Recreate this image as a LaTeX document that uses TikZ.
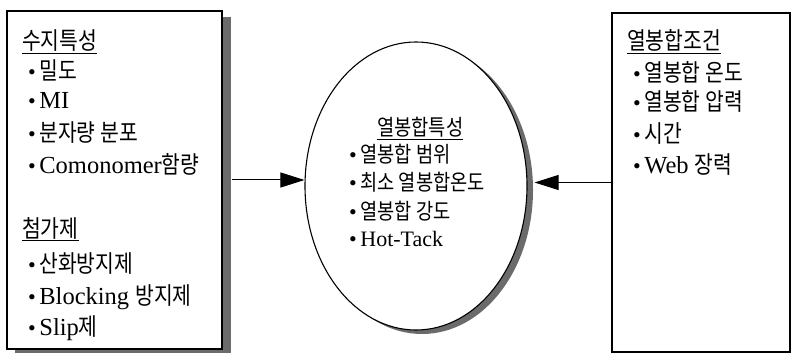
\documentclass[tikz,border=0pt]{standalone}
\usepackage{fontspec}
\setmainfont{Liberation Serif}
\newfontfamily\kr[FakeStretch=0.85]{Noto Sans CJK KR}
\newcommand\bul{{\fontsize{22}{22}\selectfont •}\hspace{3.5pt}}
\newcommand\kl{\kr\fontsize{24}{28}\selectfont}
\newcommand\ke{\kr\fontsize{22}{26}\selectfont}
\usetikzlibrary{arrows.meta,shapes.geometric}
\begin{document}
\begin{tikzpicture}[x=1pt,y=-1pt,
  txt/.style={anchor=base west, inner sep=0pt, font=\fontsize{24.5}{28}\selectfont},
  etxt/.style={anchor=base west, inner sep=0pt, font=\fontsize{22}{26}\selectfont},
  boxst/.style={draw=black, line width=1.1pt, fill=white, inner sep=0pt},
  shadowst/.style={fill=black!58},
  arr/.style={line width=1pt, -{Triangle[length=24pt,width=15pt]}}]
\useasboundingbox (0,0) rectangle (791,363);
% left box
\fill[shadowst] (15,17) rectangle (231,353);
\node[boxst, minimum width=215pt, minimum height=338pt] (lbox) at (114.5,180) {};
% right box
\node[boxst, minimum width=178pt, minimum height=339pt] (rbox) at (701,182.5) {};
% ellipse
\fill[shadowst] (422,190) ellipse [x radius=111pt, y radius=144pt];
\node[ellipse, boxst, minimum width=222pt, minimum height=288pt] (ell) at (416,186) {};
% arrows
\draw[arr] ([xshift=9pt]lbox.east) -- (ell.west |- lbox.east);
\draw[arr] (rbox.west) -- ([xshift=7pt]ell.east |- rbox.west);
% left texts
\node[txt] (l0) at (22,50) {\underline{\kl 수지특성}};
\node[txt] (l1) at (28,80) {\bul{\kl 밀도}};
\node[txt] (l2) at (28,109) {\bul MI};
\node[txt] (l3) at (28,142) {\bul{\kl 분자량 분포}};
\node[txt] (l4) at (28,174) {\bul Comonomer{\kl 함량}};
\node[txt] (l5) at (22,237) {\underline{\kl 첨가제}};
\node[txt] (l6) at (28,272) {\bul{\kl 산화방지제}};
\node[txt] (l7) at (28,304) {\bul Blocking {\kl 방지제}};
\node[txt] (l8) at (28,335) {\bul Slip{\kl 제}};
% ellipse texts
\node[etxt] (e0) at (377,136) {\underline{\ke 열봉합특성}};
\node[etxt] (e1) at (349,163) {\bul{\ke 열봉합 범위}};
\node[etxt] (e2) at (349,191) {\bul{\ke 최소 열봉합온도}};
\node[etxt] (e3) at (349,219) {\bul{\ke 열봉합 강도}};
\node[etxt] (e4) at (349,246) {\bul Hot-Tack};
% right texts
\node[txt] (r0) at (627,50) {\underline{\kl 열봉합조건}};
\node[txt] (r1) at (633,82) {\bul{\kl 열봉합 온도}};
\node[txt] (r2) at (633,111) {\bul{\kl 열봉합 압력}};
\node[txt] (r3) at (633,143) {\bul{\kl 시간}};
\node[txt] (r4) at (633,174) {\bul Web {\kl 장력}};
\end{tikzpicture}
\end{document}
